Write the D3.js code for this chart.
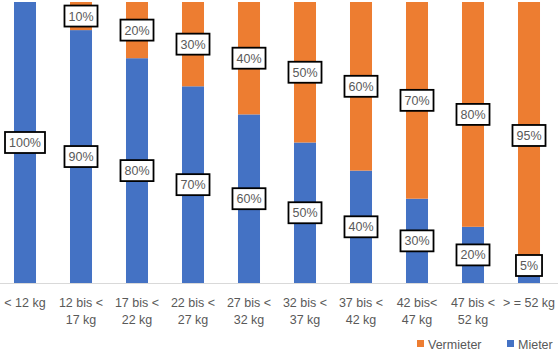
<!DOCTYPE html>
<html lang="de">
<head>
<meta charset="UTF-8">
<title>Mieter / Vermieter</title>
<script src="https://d3js.org/d3.v7.min.js"></script>
<style>
    body { margin: 0; padding: 0; background: #fff; }
    svg { display: block; font-family: "Liberation Sans", "DejaVu Sans", sans-serif; }
</style>
</head>
<body>
<svg id="chart"></svg>
<script>
    const categories = [
        ["< 12 kg"], ["12 bis <", "17 kg"], ["17 bis <", "22 kg"], ["22 bis <", "27 kg"],
        ["27 bis <", "32 kg"], ["32 bis <", "37 kg"], ["37 bis <", "42 kg"], ["42 bis<", "47 kg"],
        ["47 bis <", "52 kg"], ["> = 52 kg"]
    ];
    const mieter    = [100, 90, 80, 70, 60, 50, 40, 30, 20, 5];
    const vermieter = [0, 10, 20, 30, 40, 50, 60, 70, 80, 95];
    const seriesNames = ["Mieter", "Vermieter"];
    const colors = { Mieter: "#4472C4", Vermieter: "#ED7D31" };

    const W = 558, H = 352;
    const svg = d3.select("#chart").attr("width", W).attr("height", H);

    const x = d3.scaleBand()
        .domain(d3.range(categories.length))
        .range([-3, 557])
        .paddingInner(0.607)
        .paddingOuter(0.3035);
    const y = d3.scaleLinear().domain([0, 100]).range([283, 2]);

    const rows = categories.map((c, i) => ({ i, Mieter: mieter[i], Vermieter: vermieter[i] }));
    const stacked = d3.stack().keys(seriesNames)(rows);

    // bars
    svg.append("g").selectAll("g")
        .data(stacked).join("g")
        .attr("fill", d => colors[d.key])
        .selectAll("rect")
        .data(d => d).join("rect")
        .attr("x", d => x(d.data.i))
        .attr("width", x.bandwidth())
        .attr("y", d => y(d[1]))
        .attr("height", d => y(d[0]) - y(d[1]));

    // axis line
    svg.append("line")
        .attr("x1", 0).attr("x2", W)
        .attr("y1", y(0) + 0.5).attr("y2", y(0) + 0.5)
        .attr("stroke", "#d9d9d9").attr("stroke-width", 1);

    // category labels
    const catG = svg.append("g");
    categories.forEach((lines, i) => {
        const t = catG.append("text")
            .attr("x", x(i) + x.bandwidth() / 2)
            .attr("y", 307)
            .attr("text-anchor", "middle")
            .attr("font-size", 12.5)
            .attr("fill", "#595959");
        lines.forEach((ln, k) => {
            t.append("tspan").attr("x", x(i) + x.bandwidth() / 2).attr("dy", k ? 17 : 0).text(ln);
        });
    });

    // data labels in boxes
    const labG = svg.append("g");
    stacked.forEach(s => {
        s.forEach(d => {
            const v = d[1] - d[0];
            if (!v) return;
            const cx = x(d.data.i) + x.bandwidth() / 2;
            let cy = (y(d[0]) + y(d[1])) / 2;
            const bh = 21;
            cy = Math.min(cy, y(0) - 7 - bh / 2);
            const g = labG.append("g");
            const t = g.append("text")
                .attr("x", cx).attr("y", cy + 4.5)
                .attr("text-anchor", "middle")
                .attr("font-size", 12.5)
                .attr("fill", "#595959")
                .text(v + "%");
            const bw = t.node().getComputedTextLength() + 8;
            g.insert("rect", "text")
                .attr("x", cx - bw / 2).attr("y", cy - bh / 2)
                .attr("width", bw).attr("height", bh)
                .attr("fill", "#fff")
                .attr("stroke", "#000").attr("stroke-width", 1.8);
        });
    });

    // legend
    const legend = [["Vermieter", 417], ["Mieter", 507]];
    legend.forEach(([name, lx]) => {
        svg.append("rect").attr("x", lx).attr("y", 340).attr("width", 7).attr("height", 7)
            .attr("fill", colors[name]);
        svg.append("text").attr("x", lx + 11).attr("y", 348.5)
            .attr("font-size", 12.5).attr("fill", "#595959").text(name);
    });
</script>
</body>
</html>
